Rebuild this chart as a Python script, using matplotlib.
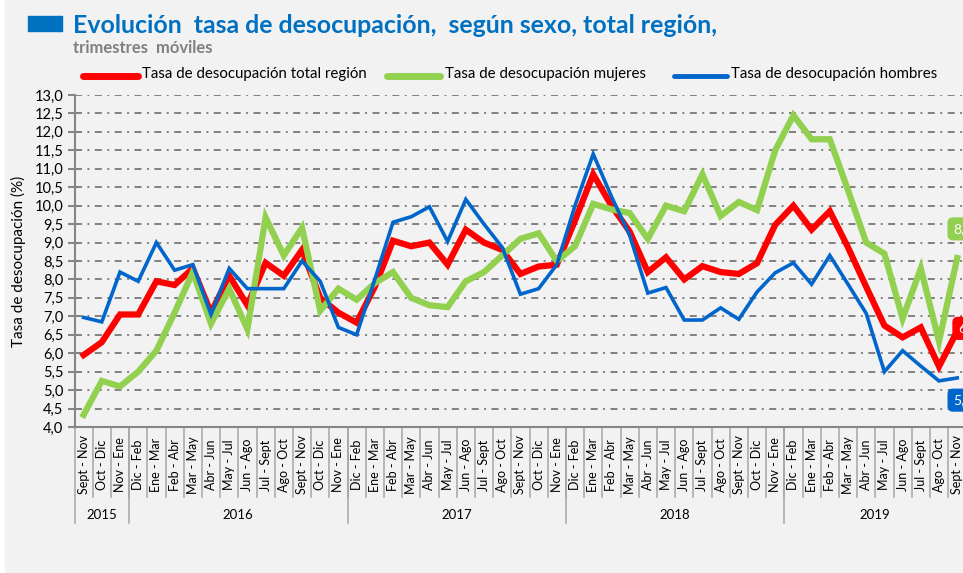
import matplotlib
matplotlib.use("Agg")
import matplotlib.pyplot as plt
from matplotlib.lines import Line2D
from matplotlib.patches import Rectangle

# periodos (trimestres móviles) y años
periodos = (["Sept - Nov", "Oct - Dic", "Nov - Ene"]
            + ["Dic - Feb", "Ene - Mar", "Feb - Abr", "Mar - May", "Abr - Jun", "May - Jul",
               "Jun - Ago", "Jul - Sept", "Ago - Oct", "Sept - Nov", "Oct - Dic", "Nov - Ene"] * 3
            + ["Dic - Feb", "Ene - Mar", "Feb - Abr", "Mar - May", "Abr - Jun", "May - Jul",
               "Jun - Ago", "Jul - Sept", "Ago - Oct", "Sept - Nov"])
anios = ["2015", "2016", "2017", "2018", "2019"]
anios_n = [3, 12, 12, 12, 10]

total = [5.95, 6.3, 7.05, 7.05, 7.95, 7.85, 8.3, 7.1, 8.1, 7.3, 8.45, 8.1, 8.8, 7.5, 7.1,
         6.83, 7.8, 9.05, 8.9, 9.0, 8.4, 9.35, 9.0, 8.8, 8.15, 8.35, 8.4, 9.6, 10.85, 10.0, 9.3,
         8.2, 8.6, 8.0, 8.36, 8.2, 8.15, 8.44, 9.48, 10.0, 9.35, 9.85, 8.87, 7.8, 6.75, 6.43, 6.7, 5.64, 6.6]
mujeres = [4.33, 5.25, 5.1, 5.5, 6.07, 7.1, 8.2, 6.8, 7.75, 6.65, 9.68, 8.65, 9.4, 7.15, 7.75,
           7.45, 7.9, 8.2, 7.5, 7.3, 7.25, 7.95, 8.2, 8.65, 9.1, 9.25, 8.5, 8.9, 10.05, 9.9, 9.8,
           9.1, 10.0, 9.85, 10.85, 9.72, 10.1, 9.88, 11.5, 12.45, 11.8, 11.8, 10.42, 9.0, 8.7, 6.94, 8.3, 6.32, 8.58]
hombres = [6.97, 6.85, 8.2, 7.95, 9.0, 8.25, 8.4, 7.05, 8.3, 7.75, 7.75, 7.75, 8.5, 7.95, 6.7,
           6.5, 8.0, 9.55, 9.7, 9.97, 9.03, 10.17, 9.5, 8.87, 7.6, 7.75, 8.4, 10.0, 11.4, 10.25, 9.2,
           7.63, 7.78, 6.9, 6.9, 7.23, 6.92, 7.66, 8.18, 8.45, 7.87, 8.65, 7.87, 7.08, 5.5, 6.07, 5.65, 5.25, 5.33]

ROJO = "#FF0000"
VERDE = "#92D050"
AZUL = "#0066CC"
GRIS = "#868686"
FONDO = "#F2F2F2"

plt.rcParams["font.family"] = ["Lato", "DejaVu Sans"]

W, H = 963, 573
fig = plt.figure(figsize=(W / 100, H / 100), dpi=100, facecolor="white")


def fx(x):
    return x / W


def fy(y):
    return 1 - y / H


# fondo gris (con franja blanca a la izquierda)
fig.add_artist(Rectangle((fx(5), 0), 1, 1, transform=fig.transFigure, color=FONDO, zorder=-10))

# titulo
fig.add_artist(Rectangle((fx(28), fy(31)), fx(34), 15 / H, transform=fig.transFigure, color="#0070C0"))
fig.text(fx(73), fy(33), "Evolución  tasa de desocupación,  según sexo, total región,",
         fontsize=17.9, fontweight="bold", color="#0070C0", va="baseline")
fig.text(fx(73), fy(53), "trimestres  móviles", fontsize=12, fontweight="bold",
         color="#808080", va="baseline")

# leyenda
leyenda = [(ROJO, 5, 83, 138, 142, "Tasa de desocupación total región"),
           (VERDE, 5, 387, 440, 445, "Tasa de desocupación mujeres"),
           (AZUL, 3.5, 674, 727, 731, "Tasa de desocupación hombres")]
for color, lw, x0, x1, xt, texto in leyenda:
    fig.add_artist(Line2D([fx(x0), fx(x1)], [fy(76), fy(76)], transform=fig.transFigure,
                          color=color, lw=lw, solid_capstyle="round"))
    fig.text(fx(xt), fy(74), texto, fontsize=10.8, va="center")

# ejes
x_left, x_bottom, y_top = 74.5, 427, 95
paso = 18.2
ax = fig.add_axes([fx(x_left), fy(x_bottom), len(periodos) * paso / W, (x_bottom - y_top) / H])
ax.set_facecolor("none")
x = list(range(len(periodos)))

ax.plot(x, total, color=ROJO, lw=4.5, zorder=3, solid_joinstyle="miter")
ax.plot(x, mujeres, color=VERDE, lw=4.5, zorder=4, solid_joinstyle="miter")
ax.plot(x, hombres, color=AZUL, lw=2.6, zorder=5, solid_joinstyle="miter")

ax.set_xlim(-0.5, len(periodos) - 0.5)
ax.set_ylim(4, 13)
yt = [4 + 0.5 * k for k in range(19)]
ax.set_yticks(yt)
ax.set_yticklabels([f"{v:.1f}".replace(".", ",") for v in yt], fontsize=10.5)
ax.tick_params(axis="y", length=5, width=1.5, color=GRIS, pad=3)
ax.grid(axis="y", color="#808080", lw=1.4, linestyle=(0, (3.6, 2.8, 1, 2.8)))
ax.set_axisbelow(True)
for s in ["top", "right"]:
    ax.spines[s].set_visible(False)
for s in ["left", "bottom"]:
    ax.spines[s].set_color(GRIS)
    ax.spines[s].set_linewidth(1.5)
ax.set_ylabel("Tasa de desocupación (%)", fontsize=11, labelpad=6)

# eje x en dos niveles
ax.set_xticks([])
alto = x_bottom - y_top
trans = ax.get_xaxis_transform()
y_lab = -(465 - x_bottom) / alto
y_sep = -(497 - x_bottom) / alto
y_anio_sep = -(523 - x_bottom) / alto
y_anio = -(515 - x_bottom) / alto
for i, p in enumerate(periodos):
    ax.text(i, y_lab, p, transform=trans, rotation=90, ha="center", va="center", fontsize=9)
    ax.plot([i + 0.5, i + 0.5], [0, y_sep], transform=trans, color="#A6A6A6", lw=1.1, clip_on=False)
inicio = 0
for anio, n in zip(anios, anios_n):
    ax.plot([inicio - 0.5, inicio - 0.5], [0, y_anio_sep], transform=trans, color="#A6A6A6",
            lw=1.1, clip_on=False)
    ax.text(inicio + (n - 1) / 2, y_anio, anio, transform=trans, ha="center", va="center", fontsize=9.5)
    inicio += n

# etiquetas del ultimo dato (quedan recortadas en el borde, como en el original)
ultimo = len(periodos) - 1
for serie, color, dx, dy in [(mujeres, VERDE, -3, 21), (total, ROJO, 0.5, 2), (hombres, AZUL, -3, -16)]:
    ax.annotate(f"{serie[-1]:.1f}".replace(".", ","), xy=(ultimo, serie[-1]),
                xytext=(dx, dy), textcoords="offset points", ha="left", va="center",
                color="white", fontsize=10, annotation_clip=False, zorder=6,
                bbox=dict(boxstyle="round,pad=0.35", fc=color, ec=color))

fig.savefig("out.png", dpi=100, facecolor=fig.get_facecolor())
